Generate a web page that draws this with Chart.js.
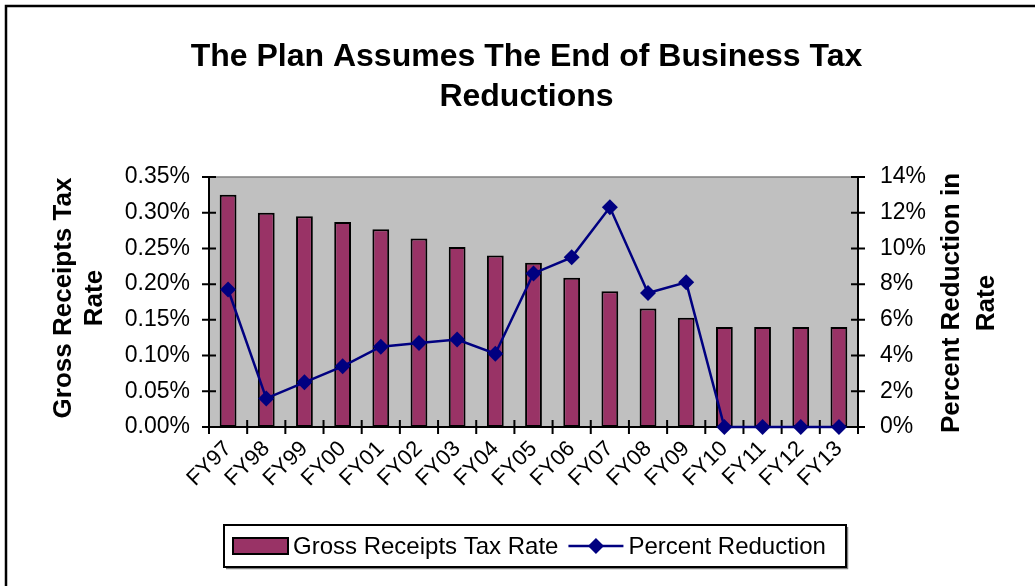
<!DOCTYPE html>
<html lang="en">
<head>
<meta charset="utf-8">
<title>The Plan Assumes The End of Business Tax Reductions</title>
<script src="https://cdn.jsdelivr.net/npm/chart.js@4/dist/chart.umd.min.js"></script>
<style>
  body { margin:0; background:#fff; }
  #wrap { position:relative; width:1035px; height:586px; }
</style>
</head>
<body>
<div id="wrap"><canvas id="chart"></canvas></div>
<script>
// fiscal years and the two series (rate in percent, reduction in percent)
const years = ['FY97','FY98','FY99','FY00','FY01','FY02','FY03','FY04','FY05','FY06','FY07','FY08','FY09','FY10','FY11','FY12','FY13'];
const grossRate = [0.325, 0.300, 0.295, 0.287, 0.277, 0.264, 0.252, 0.240, 0.230, 0.209, 0.190, 0.166, 0.153, 0.140, 0.140, 0.140, 0.140];
const pctReduction = [7.7, 1.6, 2.5, 3.4, 4.5, 4.7, 4.9, 4.1, 8.6, 9.5, 12.3, 7.5, 8.1, 0, 0, 0, 0];

const titleLines = ['The Plan Assumes The End of Business Tax', 'Reductions'];
const leftTitle = ['Gross Receipts Tax', 'Rate'];
const rightTitle = ['Percent Reduction in', 'Rate'];
const seriesNames = ['Gross Receipts Tax Rate', 'Percent Reduction'];

const FONT = "'Liberation Sans', Arial, sans-serif";
const BAR = '#993366';
const LINE = '#000080';

function diamond(ctx, x, y, r) {
  ctx.beginPath();
  ctx.moveTo(x - r, y); ctx.lineTo(x, y - r); ctx.lineTo(x + r, y); ctx.lineTo(x, y + r);
  ctx.closePath();
  ctx.fill();
}

const frame = {
  id: 'frame',
  beforeDraw(chart) {
    const { ctx, chartArea: a } = chart;
    ctx.save();
    ctx.fillStyle = '#c0c0c0';
    ctx.fillRect(a.left, a.top, a.right - a.left, a.bottom - a.top);
    ctx.strokeStyle = '#808080';
    ctx.lineWidth = 1.5;
    ctx.beginPath(); ctx.moveTo(a.left, a.top); ctx.lineTo(a.right, a.top); ctx.stroke();
    ctx.restore();
  },
  beforeDatasetsDraw(chart) {
    // axis lines with tick marks crossing them
    const { ctx, chartArea: a, scales } = chart;
    ctx.save();
    ctx.strokeStyle = '#000';
    ctx.lineWidth = 2;
    ctx.beginPath();
    ctx.moveTo(a.left, a.top); ctx.lineTo(a.left, a.bottom);
    ctx.moveTo(a.right, a.top); ctx.lineTo(a.right, a.bottom);
    ctx.moveTo(a.left - 7, a.bottom); ctx.lineTo(a.right + 7, a.bottom);
    scales.y.ticks.forEach(t => {
      const y = scales.y.getPixelForValue(t.value);
      ctx.moveTo(a.left - 7, y); ctx.lineTo(a.left + 7, y);
    });
    scales.y1.ticks.forEach(t => {
      const y = scales.y1.getPixelForValue(t.value);
      ctx.moveTo(a.right - 7, y); ctx.lineTo(a.right + 7, y);
    });
    const n = years.length, w = (a.right - a.left) / n;
    for (let i = 0; i <= n; i++) {
      const x = a.left + i * w;
      ctx.moveTo(x, a.bottom - 7); ctx.lineTo(x, a.bottom + 7);
    }
    ctx.stroke();
    ctx.restore();
  },
  afterDraw(chart) {
    const { ctx } = chart;
    ctx.save();
    ctx.fillStyle = '#000';
    ctx.font = 'bold 26px ' + FONT;
    ctx.textAlign = 'center';
    ctx.textBaseline = 'middle';

    // rotated axis titles, both read bottom to top
    const drawTitle = (lines, x0, cy, gap) => {
      lines.forEach((s, i) => {
        ctx.save();
        ctx.translate(x0 + i * gap, cy);
        ctx.rotate(-Math.PI / 2);
        ctx.fillText(s, 0, 0);
        ctx.restore();
      });
    };
    drawTitle(leftTitle, 64, 298, 31);
    drawTitle(rightTitle, 952, 303, 35);

    // legend box
    const bars = chart.data.datasets.find(d => d.type === 'bar');
    const line = chart.data.datasets.find(d => d.type === 'line');
    const lx = 224, ly = 525, lw = 622, lh = 42, my = ly + lh / 2;
    ctx.fillStyle = '#fff';
    ctx.fillRect(lx, ly, lw, lh);
    ctx.strokeStyle = '#808080';
    ctx.lineWidth = 1.5;
    ctx.beginPath();
    ctx.moveTo(lx + 2, ly + lh + 1.5); ctx.lineTo(lx + lw + 1.5, ly + lh + 1.5); ctx.lineTo(lx + lw + 1.5, ly + 2);
    ctx.stroke();
    ctx.strokeStyle = '#000';
    ctx.lineWidth = 2;
    ctx.strokeRect(lx, ly, lw, lh);

    ctx.font = '24px ' + FONT;
    ctx.textAlign = 'left';
    let x = lx + 9;
    ctx.fillStyle = bars.backgroundColor;
    ctx.fillRect(x, my - 8, 55, 16);
    ctx.strokeRect(x, my - 8, 55, 16);
    x += 60;
    ctx.fillStyle = '#000';
    ctx.fillText(bars.label, x, my + 1);
    x += ctx.measureText(bars.label).width + 10;
    ctx.strokeStyle = line.borderColor;
    ctx.lineWidth = 2.5;
    ctx.beginPath(); ctx.moveTo(x, my); ctx.lineTo(x + 55, my); ctx.stroke();
    ctx.fillStyle = line.borderColor;
    diamond(ctx, x + 27.5, my, 8);
    x += 60;
    ctx.fillStyle = '#000';
    ctx.fillText(line.label, x, my + 1);

    // outer frame, left and top edges
    ctx.strokeStyle = '#000';
    ctx.lineWidth = 2.5;
    ctx.beginPath();
    ctx.moveTo(6, 586); ctx.lineTo(6, 6); ctx.lineTo(1035, 6);
    ctx.stroke();
    ctx.restore();
  }
};

new Chart(document.getElementById('chart'), {
  data: {
    labels: years,
    datasets: [
      {
        type: 'line',
        label: seriesNames[1],
        data: pctReduction,
        yAxisID: 'y1',
        borderColor: LINE,
        backgroundColor: LINE,
        borderWidth: 2.5,
        pointStyle: 'rectRot',
        pointRadius: 8,
        pointBorderWidth: 0,
        pointBackgroundColor: LINE,
        tension: 0,
        clip: false,
        order: 0
      },
      {
        type: 'bar',
        label: seriesNames[0],
        data: grossRate,
        yAxisID: 'y',
        backgroundColor: BAR,
        borderColor: '#000',
        borderWidth: 2,
        borderSkipped: false,
        barPercentage: 0.44,
        categoryPercentage: 1,
        order: 1
      }
    ]
  },
  options: {
    responsive: true,
    maintainAspectRatio: false,
    animation: false,
    layout: { padding: { left: 18, right: 0, top: 0, bottom: 0 } },
    plugins: {
      legend: { display: false },
      tooltip: { enabled: false },
      title: {
        display: true,
        text: titleLines,
        color: '#000',
        font: { family: FONT, size: 32, weight: 'bold', lineHeight: 1.25 },
        padding: { top: 37, bottom: 60 }
      }
    },
    scales: {
      x: {
        type: 'category',
        offset: true,
        grid: { display: false, drawTicks: false },
        border: { display: false },
        ticks: {
          color: '#000',
          font: { family: FONT, size: 22 },
          maxRotation: 45,
          minRotation: 45,
          autoSkip: false,
          padding: 9
        },
        afterFit(s) { s.height = 586 - 427; }
      },
      y: {
        position: 'left',
        min: 0,
        max: 0.35,
        grid: { display: false, drawTicks: false },
        border: { display: false },
        ticks: {
          stepSize: 0.05,
          color: '#000',
          font: { family: FONT, size: 23 },
          padding: 19,
          callback: v => v.toFixed(2) + '%'
        },
        afterFit(s) { s.width = 209 - 18; }
      },
      y1: {
        position: 'right',
        min: 0,
        max: 14,
        grid: { display: false, drawTicks: false },
        border: { display: false },
        ticks: {
          stepSize: 2,
          color: '#000',
          font: { family: FONT, size: 23 },
          padding: 22,
          callback: v => v + '%'
        },
        afterFit(s) { s.width = 1035 - 858; }
      }
    }
  },
  plugins: [frame]
});
</script>
</body>
</html>
